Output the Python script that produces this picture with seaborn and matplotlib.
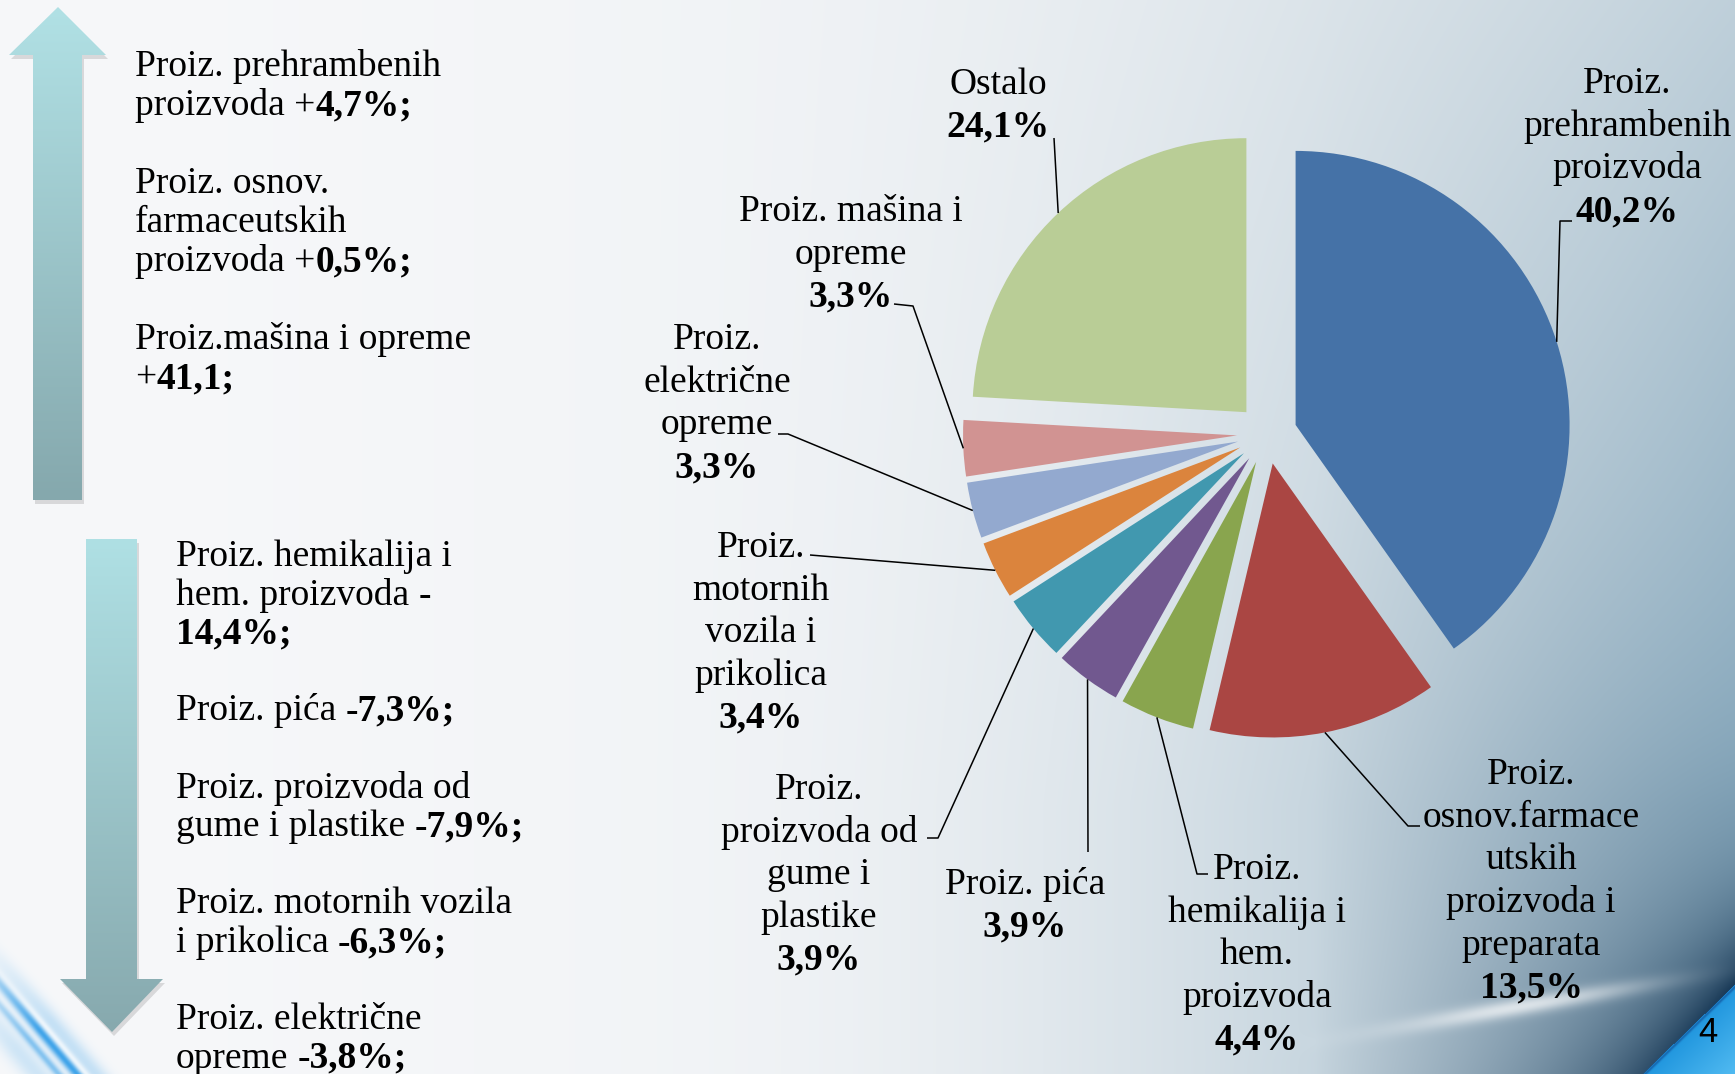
import numpy as np
import matplotlib
matplotlib.use("Agg")
import matplotlib.pyplot as plt
from matplotlib.patches import Polygon
import seaborn as sns

W, H = 1735, 1074

# struktura industrijske proizvodnje (udio u %)
SEKTORI = ["prehrambeni", "farmaceutski", "hemikalije", "pica", "guma_plastika",
           "motorna_vozila", "elektricna_oprema", "masine_oprema", "ostalo"]
UDIO = [40.2, 13.5, 4.4, 3.9, 3.9, 3.4, 3.3, 3.3, 24.1]
BOJE = ["#4572A7", "#AA4643", "#89A54E", "#71588F", "#4198AF",
        "#DB843D", "#93A9CF", "#D19392", "#B9CD96"]
NAZIVI = [
    ["Proiz.", "prehrambenih", "proizvoda"],
    ["Proiz.", "osnov.farmace", "utskih", "proizvoda i", "preparata"],
    ["Proiz.", "hemikalija i", "hem.", "proizvoda"],
    ["Proiz. pića"],
    ["Proiz.", "proizvoda od", "gume i", "plastike"],
    ["Proiz.", "motornih", "vozila i", "prikolica"],
    ["Proiz.", "električne", "opreme"],
    ["Proiz. mašina i", "opreme"],
    ["Ostalo"],
]

# tekst lijevo: rast / pad (dijelovi reda, True = bold)
RAST = [
    [("Proiz. prehrambenih", False)],
    [("proizvoda +", False), ("4,7%;", True)],
    None,
    [("Proiz. osnov.", False)],
    [("farmaceutskih", False)],
    [("proizvoda +", False), ("0,5%;", True)],
    None,
    [("Proiz.mašina i opreme", False)],
    [("+", False), ("41,1;", True)],
]
PAD = [
    [("Proiz. hemikalija i", False)],
    [("hem. proizvoda", False), ("-", True)],
    [("14,4%;", True)],
    None,
    [("Proiz. pića", False), ("-7,3%;", True)],
    None,
    [("Proiz. proizvoda od", False)],
    [("gume i plastike", False), ("-7,9%;", True)],
    None,
    [("Proiz. motornih vozila", False)],
    [("i prikolica", False), ("-6,3%;", True)],
    None,
    [("Proiz. električne", False)],
    [("opreme", False), ("-3,8%;", True)],
]

# raspored (pikseli)
PIE_CENTER = (1267, 434)
PIE_R = 274
EXPLODE = 30
LABEL_XY = [(1627, 93), (1531, 784), (1257, 879), (1025, 894), (819, 799),
            (761, 557), (717, 349), (851, 221), (998, 93.5)]
LEADER = [
    [(1572, 221), (1560, 221)],
    [(1420, 826), (1408, 826)],
    [(1208, 874), (1197, 874)],
    [(1088, 852)],
    [(927, 838), (938, 838)],
    [(810, 555)],
    [(778, 434), (788, 434)],
    [(894, 304), (913, 306)],
    [(1054, 138)],
]
FS = 27
SERIF = ["Liberation Serif", "DejaVu Serif"]


def hex2rgb(h):
    h = h.lstrip("#")
    return np.array([int(h[i:i + 2], 16) / 255 for i in (0, 2, 4)])


def blend(img, col, a):
    return img * (1 - a[..., None]) + col * a[..., None]


def background():
    X, Y = np.meshgrid(np.arange(W) + 0.5, np.arange(H) + 0.5)
    xn, yn = X / W, Y / H
    white = hex2rgb("#f7f8fa")
    gray = hex2rgb("#e2e8ec")
    blue = hex2rgb("#8aabbf")
    base = white + (gray - white) * (xn ** 1.5)[..., None]
    t = np.clip((xn - 0.35) / 0.65, 0, 1) ** 2.2 * np.clip(0.4 + 0.8 * yn, 0, 1)
    img = blend(base, blue, t)

    # tamni luk iznad plavog trokuta u desnom uglu
    p1 = np.array([1642, 1074.0])
    p2 = np.array([1735, 984.0])
    u = (p2 - p1) / np.linalg.norm(p2 - p1)
    n = np.array([u[1], -u[0]])  # prema gore-lijevo
    d = (X - p1[0]) * n[0] + (Y - p1[1]) * n[1]
    left = np.clip(W - X, 0, None)
    S = 60 + 0.45 * left
    A = np.clip(1 - left / 420, 0, 1) ** 0.8
    dark = 0.92 * A * np.exp(-np.clip(d, 0, None) / S) * (d > 0)
    img = blend(img, hex2rgb("#0e2e4c"), dark)

    # svijetla traka
    streak = np.exp(-((Y - (1021 - 0.17 * (X - 1435))) / 9) ** 2)
    streak *= np.exp(-((X - 1520) / 120) ** 2) * (d > 0)
    img = img + (1 - img) * (0.7 * streak)[..., None]

    # plavi trokut
    tri = d <= 0
    depth = np.clip(-d / 80, 0, 1)
    c1, c2 = hex2rgb("#2096de"), hex2rgb("#5ec4f6")
    tri_col = c1 + (c2 - c1) * depth[..., None]
    img[tri] = tri_col[tri]
    edge = np.exp(-((d + 1.5) / 1.5) ** 2)
    img = blend(img, hex2rgb("#1560a8"), 0.8 * edge)

    # plave linije dolje lijevo
    v = np.array([0.650, 0.760])
    nl = np.array([0.760, -0.650])
    dl = X * nl[0] + (Y - 984) * nl[1]
    sl = X * v[0] + (Y - 984) * v[1]
    fade = np.clip((sl + 60) / 120, 0, 1)
    lb = hex2rgb("#2f9ce8")
    for off, wdt, a in [(0, 5, 0.9), (-14, 4, 0.55), (14, 10, 0.25), (-30, 12, 0.2)]:
        s = a * np.exp(-((dl - off) / wdt) ** 2) * fade
        img = blend(img, lb, s)
    hl = 0.7 * np.exp(-((dl - 7) / 3) ** 2) * fade
    img = img + (1 - img) * hl[..., None]
    return np.clip(img, 0, 1)


def gradient_arrow(ax, pts, top, bottom):
    pts = np.array(pts, dtype=float)
    shadow = Polygon(pts + [2, 4], closed=True, facecolor="black", alpha=0.12,
                     edgecolor="none", zorder=1)
    ax.add_patch(shadow)
    poly = Polygon(pts, closed=True, facecolor="none", edgecolor="none", zorder=2)
    ax.add_patch(poly)
    x0, x1 = pts[:, 0].min(), pts[:, 0].max()
    y0, y1 = pts[:, 1].min(), pts[:, 1].max()
    g = np.linspace(0, 1, 256)[:, None, None]
    grad = hex2rgb(top) * (1 - g) + hex2rgb(bottom) * g
    grad = np.repeat(grad, 2, axis=1)
    im = ax.imshow(grad, extent=(x0, x1, y1, y0), aspect="auto", zorder=2,
                   interpolation="bilinear")
    im.set_clip_path(poly)


def rich_line(ax, x, y, parts):
    prev = None
    for s, bold in parts:
        w = "bold" if bold else "normal"
        if prev is None:
            prev = ax.text(x, y, s, fontsize=FS, fontweight=w, family=SERIF,
                           color="black", ha="left", va="baseline", zorder=5)
        else:
            gap = 0 if prev.get_text().endswith("+") else 6.5
            prev = ax.annotate(s, xy=(1, 0), xycoords=prev, xytext=(gap, 0),
                               textcoords="offset points", fontsize=FS,
                               fontweight=w, family=SERIF, color="black",
                               ha="left", va="bottom", zorder=5)


def main():
    sns.set_style("white")
    plt.rcParams["font.family"] = SERIF
    plt.rcParams["text.color"] = "black"

    fig = plt.figure(figsize=(W / 100, H / 100), dpi=100)
    ax = fig.add_axes([0, 0, 1, 1])

    ax.imshow(background(), extent=(0, W, H, 0), aspect="auto", zorder=0,
              interpolation="bilinear")

    colors = sns.color_palette(BOJE)
    wedges, _ = ax.pie(UDIO, colors=colors, startangle=-90, counterclock=True,
                       center=PIE_CENTER, radius=PIE_R,
                       explode=[EXPLODE] * len(UDIO),
                       wedgeprops=dict(linewidth=0, zorder=3))

    for i, w in enumerate(wedges):
        mid = np.deg2rad((w.theta1 + w.theta2) / 2)
        ax_, ay_ = w.center[0] + w.r * np.cos(mid), w.center[1] + w.r * np.sin(mid)
        pts = LEADER[i] + [(ax_, ay_)]
        ax.plot([p[0] for p in pts], [p[1] for p in pts], color="black",
                lw=1.1, zorder=4, solid_capstyle="butt")

        lx, ly = LABEL_XY[i]
        lines = NAZIVI[i]
        for k, line in enumerate(lines):
            ax.text(lx, ly + k * 42.7, line, fontsize=FS, family=SERIF,
                    color="black", ha="center", va="baseline", zorder=5)
        pct = f"{UDIO[i]:.1f}".replace(".", ",") + "%"
        ax.text(lx, ly + len(lines) * 42.7, pct, fontsize=FS, family=SERIF,
                color="black", fontweight="bold", ha="center", va="baseline",
                zorder=5)

    gradient_arrow(ax, [(58, 7), (106, 55), (82, 55), (82, 500), (33, 500),
                        (33, 55), (9, 55)], "#b1e1e5", "#85a8ad")
    gradient_arrow(ax, [(86, 539), (137, 539), (137, 979), (163, 979),
                        (112, 1032), (60, 979), (86, 979)], "#afe0e4", "#87a9ae")

    y = 76
    for row in RAST:
        if row is not None:
            rich_line(ax, 135, y, row)
        y += 39
    y = 566
    for row in PAD:
        if row is not None:
            rich_line(ax, 176, y, row)
        y += 38.6

    ax.text(1708, 1042, "4", fontsize=25, color="black",
            family=["Liberation Sans", "DejaVu Sans"],
            ha="center", va="baseline", zorder=5)

    ax.set_xlim(0, W)
    ax.set_ylim(H, 0)
    ax.set_aspect("auto")
    ax.axis("off")
    fig.savefig("out.png", dpi=100)


if __name__ == "__main__":
    main()
